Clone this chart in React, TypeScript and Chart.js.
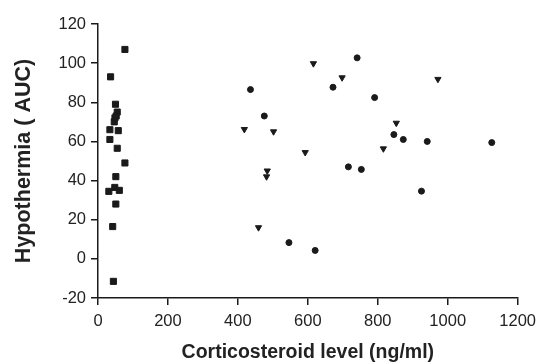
import React, { useEffect, useRef } from "react";
import { Chart, registerables } from "chart.js";

Chart.register(...registerables);

const lowX = [77, 36, 50, 55, 48.5, 46.5, 52, 34, 58, 34, 55, 77, 51, 31, 48, 61, 51, 42, 44];
const lowY = [107, 93, 79, 75, 72, 70, 73, 66, 65.5, 61, 56.5, 49, 42, 34.5, 36.5, 35, 28, 16.5, -11.5];

const circX = [436, 475.5, 546, 621, 672, 741, 791, 716, 753, 846, 873, 925, 941.5, 1126];
const circY = [86.5, 73, 8.3, 4.3, 87.7, 102.7, 82.4, 47, 45.7, 63.5, 61, 34.6, 60, 59.4];

const triX = [418.5, 459, 482, 484, 502, 592.5, 616, 698, 816, 853, 972];
const triY = [66.2, 16, 42, 45, 65, 54.4, 99.8, 92.6, 56.3, 69.4, 91.8];

const xTicks = [0, 200, 400, 600, 800, 1000, 1200];
const yTicks = [-20, 0, 20, 40, 60, 80, 100, 120];

const xTitle = "Corticosteroid level (ng/ml)";
const yTitle = "Hypothermia ( AUC)";

const ink = "#1a1a1a";
const fam = "Liberation Sans, Arial, sans-serif";

function pts(xs: number[], ys: number[]) {
  return xs.map((x, i) => ({ x, y: ys[i] }));
}

export default function App() {
  const ref = useRef<HTMLCanvasElement | null>(null);
  useEffect(() => {
    document.body.style.margin = "0";
    if (!ref.current) return;
    const chart = new Chart(ref.current, {
      type: "scatter",
      data: {
        datasets: [
          {
            label: "low",
            data: pts(lowX, lowY),
            pointStyle: "rect",
            pointRadius: 4.3,
            backgroundColor: ink,
            borderColor: ink,
            borderWidth: 1,
          },
          {
            label: "circle",
            data: pts(circX, circY),
            pointStyle: "circle",
            pointRadius: 3,
            backgroundColor: ink,
            borderColor: ink,
            borderWidth: 1,
          },
          {
            label: "triangle",
            data: pts(triX, triY),
            pointStyle: "triangle",
            rotation: 180,
            pointRadius: 3.6,
            backgroundColor: ink,
            borderColor: ink,
            borderWidth: 1,
          },
        ],
      },
      options: {
        animation: false,
        responsive: false,
        maintainAspectRatio: false,
        layout: { padding: { left: 0, right: 25, top: 24, bottom: 0 } },
        plugins: { legend: { display: false }, tooltip: { enabled: false } },
        scales: {
          x: {
            type: "linear",
            min: 0,
            max: 1200,
            afterBuildTicks: (s: any) => {
              s.ticks = xTicks.map((v) => ({ value: v }));
            },
            afterFit: (s: any) => {
              s.height = 66;
            },
            grid: { drawOnChartArea: false, drawTicks: true, tickLength: 7, color: ink, lineWidth: 1.5 },
            border: { display: true, color: ink, width: 1.5 },
            ticks: {
              color: "#222",
              padding: 7,
              maxRotation: 0,
              callback: (v: any) => String(v),
              font: { family: fam, size: 16.5 },
            },
            title: {
              display: true,
              text: xTitle,
              color: "#222",
              padding: { top: 0, bottom: 0 },
              font: { family: fam, size: 19.5, weight: "bold" },
            },
          },
          y: {
            type: "linear",
            min: -20,
            max: 120,
            afterBuildTicks: (s: any) => {
              s.ticks = yTicks.map((v) => ({ value: v }));
            },
            afterFit: (s: any) => {
              s.width = 98;
            },
            grid: { drawOnChartArea: false, drawTicks: true, tickLength: 7, color: ink, lineWidth: 1.5 },
            border: { display: true, color: ink, width: 1.5 },
            ticks: {
              color: "#222",
              padding: 5,
              callback: (v: any) => String(v),
              font: { family: fam, size: 16.5 },
            },
            title: {
              display: true,
              text: yTitle,
              color: "#222",
              padding: { top: 11, bottom: 0 },
              font: { family: fam, size: 21.5, weight: "bold" },
            },
          },
        },
      },
    });
    return () => chart.destroy();
  }, []);
  return (
    <div style={{ width: 543, height: 364, background: "#fff" }}>
      <canvas ref={ref} width={543} height={364} style={{ width: 543, height: 364, display: "block" }} />
    </div>
  );
}
